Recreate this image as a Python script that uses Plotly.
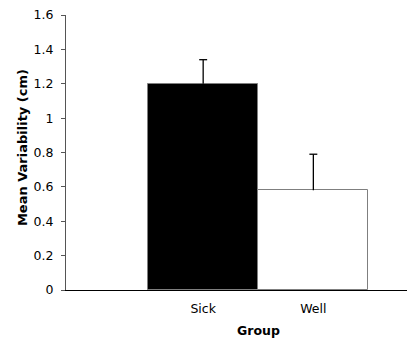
import plotly.graph_objects as go

groups = ["Sick", "Well"]
means = [1.2, 0.58]
errors_plus = [0.14, 0.21]
bar_colors = ["#000000", "#ffffff"]
y_ticks = [0, 0.2, 0.4, 0.6, 0.8, 1.0, 1.2, 1.4, 1.6]
y_tick_text = ["0", "0.2", "0.4", "0.6", "0.8", "1", "1.2", "1.4", "1.6"]

FONT = "DejaVu Sans, Verdana, sans-serif"
CAP = 0.036  # half cap width in category units

xs = list(range(len(groups)))

fig = go.Figure()
fig.add_trace(go.Bar(
    x=xs,
    y=means,
    width=1.0,
    marker=dict(color=bar_colors, line=dict(color="#7f7f7f", width=1)),
    showlegend=False,
    hoverinfo="skip",
))

# plus-only error bars (stem + top cap), built from the data arrays
ex, ey = [], []
for x, m, e in zip(xs, means, errors_plus):
    ex += [x, x, None, x - CAP, x + CAP, None]
    ey += [m, m + e, None, m + e, m + e, None]
fig.add_trace(go.Scatter(
    x=ex, y=ey, mode="lines",
    line=dict(color="#000000", width=1.3),
    showlegend=False, hoverinfo="skip", cliponaxis=False,
))

fig.update_layout(
    width=408, height=339,
    margin=dict(l=66, r=1, t=15, b=49),
    paper_bgcolor="white", plot_bgcolor="white",
    font=dict(family=FONT, size=12.5, color="#000000"),
    bargap=0,
    xaxis=dict(
        range=[-1.245, 1.85],
        tickmode="array", tickvals=xs, ticktext=groups,
        showline=True, linecolor="#000000", linewidth=1,
        ticks="", showgrid=False, zeroline=False,
        tickfont=dict(family=FONT, size=12.5),
        ticklabelstandoff=7,
    ),
    yaxis=dict(
        range=[0, 1.6],
        tickmode="array", tickvals=y_ticks, ticktext=y_tick_text,
        showline=True, linecolor="#555555", linewidth=1,
        ticks="outside", ticklen=4, tickcolor="#555555",
        showgrid=False, zeroline=False,
        tickfont=dict(family=FONT, size=12.5),
        ticklabelstandoff=5,
    ),
    annotations=[
        dict(
            text="<b>Group</b>", xref="x", x=0.5, yref="paper", y=0, yshift=-31,
            xanchor="center", yanchor="top", showarrow=False,
            font=dict(family=FONT, size=12.5),
        ),
        dict(
            text="<b>Mean Variability (cm)</b>", xref="paper", x=0, xshift=-44,
            yref="paper", y=0.516, xanchor="center", yanchor="middle",
            textangle=-90, showarrow=False,
            font=dict(family=FONT, size=13),
        ),
    ],
)

fig.write_html("out.html", config={"displayModeBar": False},
               post_script="document.body.style.margin='0px';")
